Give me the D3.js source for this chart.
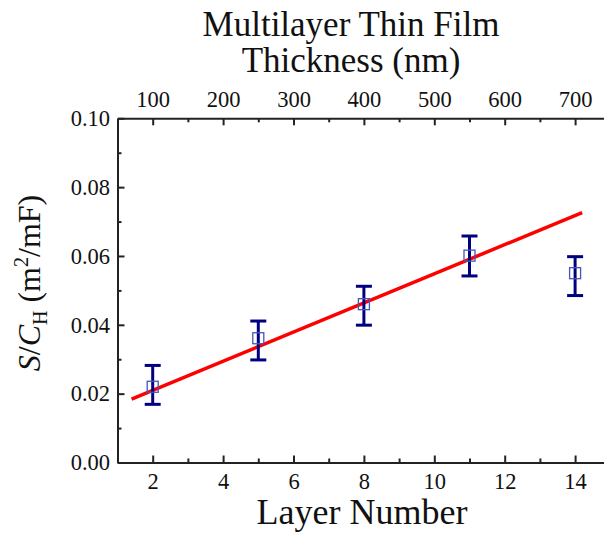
<!DOCTYPE html>
<html><head><meta charset="utf-8">
<script src="https://cdn.jsdelivr.net/npm/d3@7"></script>
<style>body{margin:0;background:#fff}svg{display:block}</style>
</head><body>
<script>
const layers = [2, 5, 8, 11, 14];
const values = [0.0220, 0.0361, 0.0460, 0.0601, 0.0550];
const upper  = [0.0282, 0.0411, 0.0512, 0.0658, 0.0598];
const lower  = [0.0169, 0.0298, 0.0399, 0.0542, 0.0485];
const fitX = [1.40, 14.2];
const fitY = [0.0184, 0.0726];
const xTicks = [2, 4, 6, 8, 10, 12, 14];
const xMinor = [3, 5, 7, 9, 11, 13];
const topTicks = [100, 200, 300, 400, 500, 600, 700];
const topMinor = [150, 250, 350, 450, 550, 650];
const yTicks = [0, 0.02, 0.04, 0.06, 0.08, 0.10];
const yMinor = [0.01, 0.03, 0.05, 0.07, 0.09];

const W = 604, H = 536;
const L = 117.5, R = 610.3, T = 118.3, B = 462.5;
const svg = d3.select("body").append("svg").attr("width", W).attr("height", H);
const font = "'Liberation Serif','Times New Roman',serif";

const x = d3.scaleLinear().domain([1, 15]).range([L, R]);
const xt = d3.scaleLinear().domain([50, 750]).range([L, R]);
const y = d3.scaleLinear().domain([0, 0.10]).range([B, T]);

function styleAxis(g){
  g.select(".domain").attr("stroke", "#222").attr("stroke-width", 2);
  g.selectAll(".tick line").attr("stroke", "#222").attr("stroke-width", 2);
  g.selectAll("text").attr("font-family", font).attr("font-size", 22.5).attr("fill", "#111");
}

// bottom axis
const gb = svg.append("g").attr("transform", `translate(0,${B})`)
  .call(d3.axisBottom(x).tickValues(xTicks).tickSizeInner(-7).tickSizeOuter(0).tickPadding(10.5).tickFormat(d3.format("d")));
styleAxis(gb);
svg.append("g").attr("transform", `translate(0,${B})`)
  .call(d3.axisBottom(x).tickValues(xMinor).tickSizeInner(-4).tickSizeOuter(0).tickFormat(""))
  .call(g => { g.select(".domain").remove(); g.selectAll(".tick line").attr("stroke", "#222").attr("stroke-width", 2); });

// top axis
const gt = svg.append("g").attr("transform", `translate(0,${T})`)
  .call(d3.axisTop(xt).tickValues(topTicks).tickSizeInner(-7).tickSizeOuter(0).tickPadding(11).tickFormat(d3.format("d")));
styleAxis(gt);
svg.append("g").attr("transform", `translate(0,${T})`)
  .call(d3.axisTop(xt).tickValues(topMinor).tickSizeInner(-4).tickSizeOuter(0).tickFormat(""))
  .call(g => { g.select(".domain").remove(); g.selectAll(".tick line").attr("stroke", "#222").attr("stroke-width", 2); });

// left axis
const gl = svg.append("g").attr("transform", `translate(${L},0)`)
  .call(d3.axisLeft(y).tickValues(yTicks).tickSizeInner(-7).tickSizeOuter(0).tickPadding(7.5).tickFormat(d3.format(".2f")));
styleAxis(gl);
svg.append("g").attr("transform", `translate(${L},0)`)
  .call(d3.axisLeft(y).tickValues(yMinor).tickSizeInner(-4).tickSizeOuter(0).tickFormat(""))
  .call(g => { g.select(".domain").remove(); g.selectAll(".tick line").attr("stroke", "#222").attr("stroke-width", 2); });

// fit line
svg.append("line")
  .attr("x1", x(fitX[0])).attr("y1", y(fitY[0]))
  .attr("x2", x(fitX[1])).attr("y2", y(fitY[1]))
  .attr("stroke", "#ff0000").attr("stroke-width", 3.5);

// error bars
const data = layers.map((l, i) => ({l, v: values[i], hi: upper[i], lo: lower[i]}));
const eb = svg.append("g").attr("stroke", "#000080").attr("stroke-width", 3).attr("fill", "none");
data.forEach(d => {
  eb.append("line").attr("x1", x(d.l)).attr("x2", x(d.l)).attr("y1", y(d.lo)).attr("y2", y(d.hi));
  eb.append("line").attr("x1", x(d.l) - 8).attr("x2", x(d.l) + 8).attr("y1", y(d.lo)).attr("y2", y(d.lo));
  eb.append("line").attr("x1", x(d.l) - 8).attr("x2", x(d.l) + 8).attr("y1", y(d.hi)).attr("y2", y(d.hi));
});
// markers
svg.append("g").selectAll("rect").data(data).join("rect")
  .attr("x", d => x(d.l) - 5.5).attr("y", d => y(d.v) - 5.5)
  .attr("width", 11).attr("height", 11)
  .attr("fill", "none").attr("stroke", "#4455bb").attr("stroke-width", 1.3);

// titles
svg.append("text").attr("x", 351).attr("y", 36).attr("text-anchor", "middle")
  .attr("font-family", font).attr("font-size", 35).attr("fill", "#111").text("Multilayer Thin Film");
svg.append("text").attr("x", 351).attr("y", 72).attr("text-anchor", "middle")
  .attr("font-family", font).attr("font-size", 35).attr("fill", "#111").text("Thickness (nm)");
svg.append("text").attr("x", 362).attr("y", 524).attr("text-anchor", "middle")
  .attr("font-family", font).attr("font-size", 36).attr("fill", "#111").text("Layer Number");

// y label
const yl = svg.append("text").attr("transform", "translate(40,283) rotate(-90)")
  .attr("text-anchor", "middle").attr("font-family", font).attr("font-size", 32).attr("fill", "#111");
yl.append("tspan").attr("font-style", "italic").text("S");
yl.append("tspan").text("/");
yl.append("tspan").attr("font-style", "italic").text("C");
yl.append("tspan").attr("font-size", 20).attr("dy", 7).text("H");
yl.append("tspan").attr("dy", -7).text(" (m");
yl.append("tspan").attr("font-size", 20).attr("dy", -12).text("2");
yl.append("tspan").attr("dy", 12).text("/mF)");
</script>
</body></html>
